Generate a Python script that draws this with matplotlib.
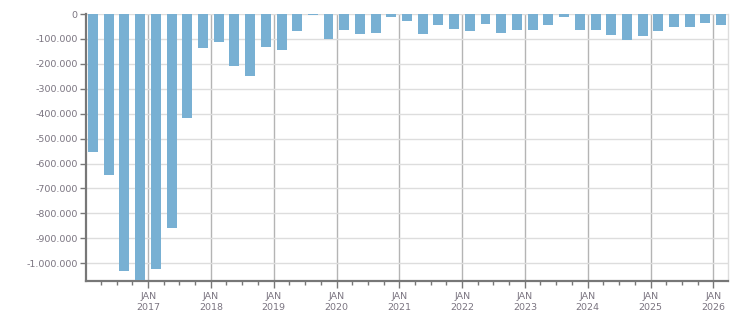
import matplotlib
matplotlib.use("Agg")
import matplotlib.pyplot as plt
import matplotlib.dates as mdates
from matplotlib.ticker import FuncFormatter, MultipleLocator
import datetime as dt

# quarterly data
quarters = ["2016-Q1", "2016-Q2", "2016-Q3", "2016-Q4",
            "2017-Q1", "2017-Q2", "2017-Q3", "2017-Q4",
            "2018-Q1", "2018-Q2", "2018-Q3", "2018-Q4",
            "2019-Q1", "2019-Q2", "2019-Q3", "2019-Q4",
            "2020-Q1", "2020-Q2", "2020-Q3", "2020-Q4",
            "2021-Q1", "2021-Q2", "2021-Q3", "2021-Q4",
            "2022-Q1", "2022-Q2", "2022-Q3", "2022-Q4",
            "2023-Q1", "2023-Q2", "2023-Q3", "2023-Q4",
            "2024-Q1", "2024-Q2", "2024-Q3", "2024-Q4",
            "2025-Q1", "2025-Q2", "2025-Q3", "2025-Q4",
            "2026-Q1"]
values = [-552000, -644000, -1033000, -1068000,
          -1025000, -857000, -416000, -135000,
          -111000, -207000, -247000, -131000,
          -143000, -67000, -4000, -99000,
          -63000, -79000, -75000, -11000,
          -27000, -79000, -43000, -59000,
          -67000, -39000, -75000, -63000,
          -63000, -43000, -11000, -63000,
          -63000, -83000, -103000, -87000,
          -67000, -51000, -51000, -35000,
          -43000]
year_labels = ["2017", "2018", "2019", "2020", "2021", "2022", "2023", "2024", "2025", "2026"]

def q_center(q):
    y, qq = q.split("-Q")
    start = dt.date(int(y), 3 * (int(qq) - 1) + 1, 1)
    return mdates.date2num(start) + 45.5

x = [q_center(q) for q in quarters]

fig = plt.figure(figsize=(7.51, 3.13), dpi=100)
ax = fig.add_axes([86 / 751, 1 - 280.7 / 313, (728 - 86) / 751, (280.7 - 14) / 313])

label_color = "#7a7480"
ax.bar(x, values, width=58, color="#78b0d3", zorder=3)

ax.yaxis.set_major_locator(MultipleLocator(100000))
ax.yaxis.set_major_formatter(FuncFormatter(lambda v, p: "{:,.0f}".format(v).replace(",", ".")))

major = [mdates.date2num(dt.date(int(y), 1, 1)) for y in year_labels]
ax.set_xticks(major)
ax.set_xticklabels(["JAN\n" + y for y in year_labels])
minor = [mdates.date2num(dt.date(y, m, 1)) for y in range(2016, 2027) for m in (1, 4, 7, 10)]
ax.set_xticks(minor, minor=True)

ax.set_ylim(-1070000, 0)
ax.set_xlim(mdates.date2num(dt.date(2016, 1, 5)), mdates.date2num(dt.date(2026, 3, 27)))

ax.grid(axis="y", color="#dddddd", linewidth=1, zorder=0)
ax.grid(axis="x", which="major", color="#b4b4b4", linewidth=1, zorder=1)

for s in ("left", "bottom"):
    ax.spines[s].set_color("#777777")
    ax.spines[s].set_linewidth(1.6)
ax.spines["right"].set_color("#dddddd")
ax.spines["right"].set_linewidth(1)
ax.spines["top"].set_visible(False)

ax.tick_params(axis="y", length=4, width=1, color="#777777", labelcolor=label_color,
               labelsize=6.8, pad=2)
ax.tick_params(axis="x", which="major", length=5, width=1, color="#777777",
               labelcolor=label_color, labelsize=6.8, pad=3)
ax.tick_params(axis="x", which="minor", length=3, width=1, color="#777777")
for lab in ax.get_xticklabels():
    lab.set_linespacing(1.3)

fig.savefig("out.png", dpi=100)
